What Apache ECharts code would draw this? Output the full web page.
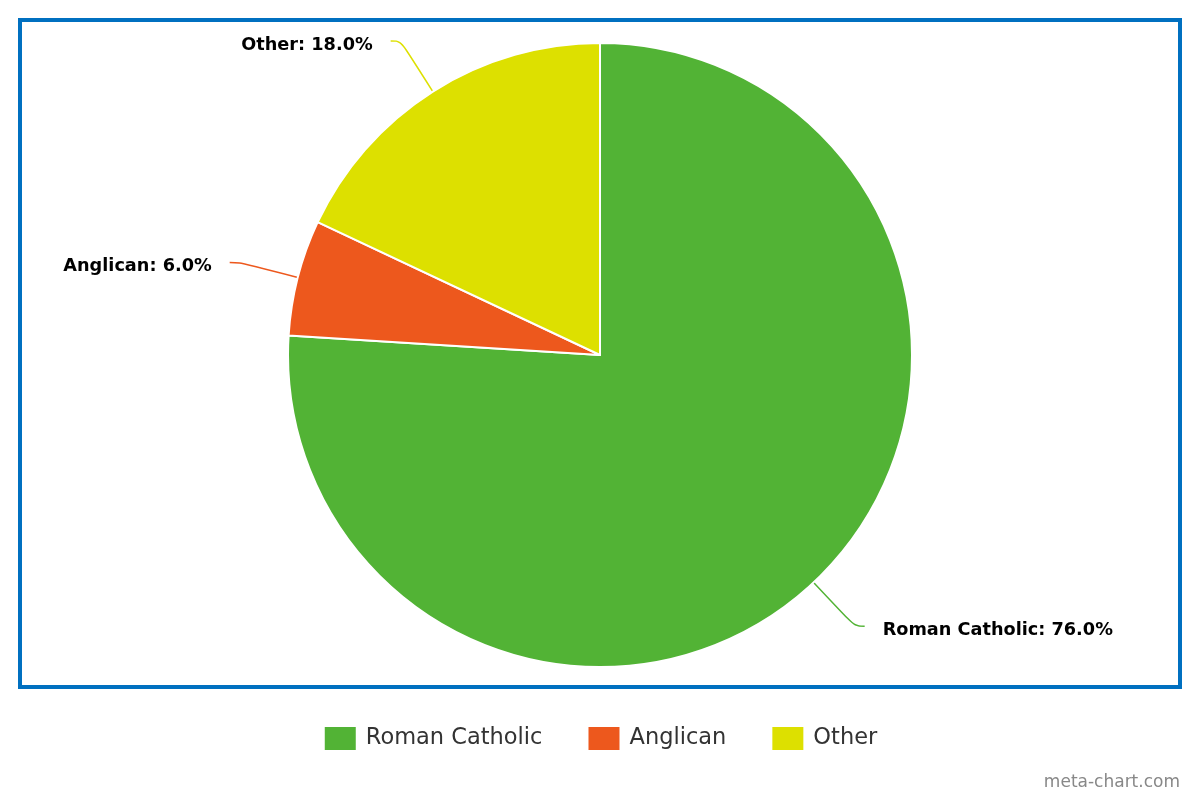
<!DOCTYPE html>
<html>
<head>
<meta charset="utf-8">
<script src="https://cdn.jsdelivr.net/npm/echarts@6/dist/echarts.min.js"></script>
<style>
  html, body { margin: 0; padding: 0; background: #fff; }
  #chart { width: 1200px; height: 800px; }
</style>
</head>
<body>
<div id="chart"></div>
<script>
const categories = ['Roman Catholic', 'Anglican', 'Other'];
const shares = [76.0, 6.0, 18.0];
const colors = ['#52b335', '#ed581d', '#dde000'];

const chart = echarts.init(document.getElementById('chart'));

const option = {
  animation: false,
  color: colors,
  legend: {
    data: categories,
    top: 720,
    left: 'center',
    icon: 'rect',
    itemWidth: 33,
    itemHeight: 25,
    itemGap: 44,
    textStyle: { fontFamily: 'DejaVu Sans', fontSize: 22.5, color: '#333', padding: [0, 0, 0, 4] }
  },
  graphic: [
    {
      type: 'rect',
      shape: { x: 20, y: 20, width: 1160, height: 667 },
      style: { fill: 'none', stroke: '#0070c0', lineWidth: 4 }
    },
    {
      type: 'text',
      right: 20,
      top: 774,
      style: { text: 'meta-chart.com', fill: '#888', font: '17px "DejaVu Sans"' }
    }
  ],
  series: [
    {
      type: 'pie',
      center: [600, 355],
      radius: 312,
      startAngle: 90,
      clockwise: true,
      itemStyle: { borderColor: '#fff', borderWidth: 2 },
      label: {
        formatter: p => p.name + ': ' + p.value.toFixed(1) + '%',
        fontFamily: 'DejaVu Sans',
        fontWeight: 'bold',
        fontSize: 17.7,
        color: '#000',
        distanceToLabelLine: 18
      },
      labelLayout: { dy: 4 },
      labelLine: { length: 60, length2: 10, smooth: 0.4, lineStyle: { width: 1.5 } },
      data: categories.map((c, i) => ({ name: c, value: shares[i] }))
    }
  ]
};

chart.setOption(option);
</script>
</body>
</html>
